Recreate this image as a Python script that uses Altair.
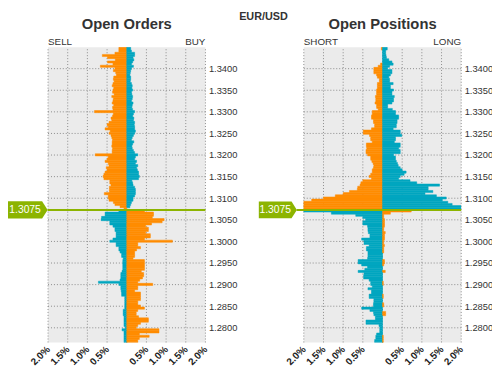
import altair as alt
import pandas as pd

# ---------------- data ----------------
ORANGE = "#ff8c00"
TEAL = "#00a6c0"
GREEN = "#8cb400"
BG = "#ebebeb"
GRID = "#8a8a8a"
TXT = "#333333"
FONT = "Liberation Sans"

PAIR = "EUR/USD"
CURRENT_PRICE = 1.3073
PRICE_LABEL = "1.3075"
STEP = 0.0005          # price bucket size
N_ABOVE = 76           # buckets above the current price
Y_DOMAIN = [1.27661, 1.34494]
PRICE_TICKS = [1.2800, 1.2850, 1.2900, 1.2950, 1.3000, 1.3050, 1.3100,
               1.3150, 1.3200, 1.3250, 1.3300, 1.3350, 1.3400]
X_GRID = [-2, -1.5, -1, -0.5, 0, 0.5, 1, 1.5, 2]
X_LABELS = [-2, -1.5, -1, -0.5, 0.5, 1, 1.5, 2]

# Open Orders (% of orders per bucket), top bucket first
orders_sell = [
    .2, .2, .2, .3, .62, .49, .29, .49, .35, .67,
    .3, .34, .28, .26, .33, .34, .32, .35, .37, .33,
    .35, .36, .32, .38, .34, .35, .37, .33, .36, .35,
    .82, .34, .36, .4, .38, .45, .5, .47, .55, .42,
    .45, .4, .38, .36, .37, .37, .38, .36, .37, .37,
    .8, .47, .5, .55, .47, .45, .52, .5, .55, .58,
    .6, .58, .43, .43, .4, .44, .44, .44, .57, .47,
    .47, .45, .34, .3, .17, .07,
    .2, .55, .55, .64, .65, .43, .43, .35, .3, .3,
    .27, .27, .27, .35, .43, .27, .27, .2, .2, .17,
    .13, .13, .09, .1, .1, .1, .1, .1, .12, .15,
    .15, .15, .17, .72, .2, .15, .15, .14, .13, .13,
    .05, .05, .05, .05, .05, .05, .09, .09, .09, .07,
    .07, .07, .07, .07, .04, .12, .07, .07, .07, .07, .07, .07]
orders_buy = [
    .1, .1, .12, .2, .2, .16, .18, .15, .12, .17,
    .12, .1, .09, .08, .1, .1, .09, .12, .14, .13,
    .15, .12, .13, .15, .14, .12, .16, .14, .13, .15,
    .2, .17, .15, .18, .17, .2, .19, .2, .2, .22,
    .2, .17, .14, .12, .18, .15, .13, .14, .17, .2,
    .28, .22, .2, .25, .22, .28, .25, .27, .3, .3,
    .32, .3, .13, .15, .16, .2, .22, .22, .22, .2,
    .16, .16, .12, .1, .08, 0,
    .45, .68, .68, .65, .95, .9, .63, .48, .55, .55,
    .48, .6, .6, .45, 1.16, .28, .28, .35, .25, .2,
    .2, .2, .16, .45, .45, .45, .45, .45, .37, .43,
    .43, .4, .33, .28, .66, .28, .28, .2, .35, .35,
    .35, .35, .28, .28, .35, .45, .28, .24, .24, .3,
    .55, .55, .35, .28, .24, .82, .82, .32, .57, .32, .28, .28]

# Open Positions (% of positions per bucket), top bucket first
positions_short = [
    .03, .03, 0, 0, 0, 0, 0, 0, .05, .11,
    .22, .22, .22, .15, .13, .08, .08, .13, .13, .13,
    .15, .15, .15, .18, .17, .17, .19, .15, .15, .11,
    .26, .26, .28, .28, .23, .23, .2, .2, .28, .49,
    .49, .33, .3, .3, .26, .41, .41, .4, .42, .42,
    .38, .3, .3, .27, .24, .22, .23, .26, .26, .3,
    .34, .28, .5, .55, .57, .63, .64, .84, 1.0, 1.2,
    1.5, 1.8, 2.0, 2.0, 2.0, 2.0,
    2.0, 1.3, .68, .5, .43, .5, .5, .38, .37, .37,
    .36, .32, .32, .53, .47, .47, .34, .41, .41, .37,
    .37, .37, .38, .62, .62, .53, .38, .45, .62, .47,
    .48, .48, .34, .3, .3, .26, .37, .28, .28, .34,
    .34, .22, .22, .23, .23, .53, .32, .23, .22, .18,
    .18, .42, .42, .09, .07, .07, .07, .15, .17, .17, .2, .2]
positions_long = [
    .12, .12, .08, .08, .09, .1, .16, .24, .27, .18,
    .13, .24, .24, .2, .16, .18, .18, .27, .2, .2,
    .28, .24, .24, .3, .28, .28, .24, .13, .13, .25,
    .33, .33, .41, .41, .37, .37, .35, .35, .27, .45,
    .45, .49, .33, .33, .3, .45, .45, .41, .45, .45,
    .28, .33, .33, .35, .38, .4, .45, .5, .6, .55,
    .45, .41, .7, .87, 1.45, 1.16, 1.16, 1.28, 1.08, 1.37,
    1.62, 1.52, 1.66, 1.77, 2.0, 2.0,
    .73, .2, .03, .03, .05, .05, .05, .05, .03, .03,
    .07, .05, .05, .05, .03, .03, .05, .03, .03, .03,
    0, 0, 0, .05, .05, .03, 0, 0, .07, 0,
    0, 0, 0, .02, .02, 0, 0, 0, 0, .02,
    .02, 0, 0, .03, .03, 0, 0, .08, .08, 0,
    0, 0, 0, 0, 0, 0, 0, 0, .02, .02, .02, .02]


def bars_frame(left_vals, right_vals):
    rows = []
    for i, (l, r) in enumerate(zip(left_vals, right_vals)):
        hi = CURRENT_PRICE + (N_ABOVE - i) * STEP
        lo = hi - STEP
        above = i < N_ABOVE
        if l > 0:
            rows.append(dict(lo=lo, hi=hi, x0=0.0, x1=-l, col="o" if above else "t"))
        if r > 0:
            rows.append(dict(lo=lo, hi=hi, x0=0.0, x1=r, col="t" if above else "o"))
    return pd.DataFrame(rows)


ARROW = "M-1,-0.44L0.72,-0.44L1,0L0.72,0.44L-1,0.44Z"
cscale = alt.Scale(domain=["o", "t"], range=[ORANGE, TEAL])


def panel(df, rng, title, left_word, right_word, y_offset,
          arrow_x, arrow_size, text_x, line_x0, extra=None):
    xs = alt.Scale(domain=[-2, 2], range=rng)
    ys = alt.Scale(domain=Y_DOMAIN, nice=False, zero=False)

    xaxis = alt.Axis(orient="bottom", values=X_LABELS, title=None, domain=False,
                     ticks=False, tickSize=0, grid=False, labelPadding=5, labelAngle=315,
                     labelAlign="right", labelBaseline="middle", labelFontWeight="bold",
                     labelFontSize=10, labelColor="#222222", labelFont=FONT,
                     labelOverlap=False, labelFlush=False, labelBound=False,
                     labelExpr="format(abs(datum.value), '.1f') + '%'")
    yaxis = alt.Axis(orient="right", offset=y_offset, values=PRICE_TICKS, format=".4f",
                     title=None, domain=False, ticks=False, tickSize=0, grid=False,
                     labelPadding=3, labelFontSize=9.5, labelColor=TXT, labelFont=FONT,
                     labelOverlap=False, labelFlush=False)

    def X(f):
        return alt.X(f, scale=xs, axis=xaxis)

    def Y(f):
        return alt.Y(f, scale=ys, axis=yaxis)

    bg = alt.Chart(pd.DataFrame({"x0": [-2], "x1": [2], "lo": [Y_DOMAIN[0]], "hi": [Y_DOMAIN[1]]})
                   ).mark_rect(color=BG).encode(x=X("x0:Q"), x2="x1", y=Y("lo:Q"), y2="hi")

    vgrid = alt.Chart(pd.DataFrame({"x0": X_GRID, "lo": Y_DOMAIN[0], "hi": Y_DOMAIN[1]})
                      ).mark_rule(color=GRID, strokeDash=[1, 2], strokeWidth=1).encode(
        x=X("x0:Q"), y=Y("lo:Q"), y2="hi")

    hgrid = alt.Chart(pd.DataFrame({"lo": PRICE_TICKS, "x0": -2, "x1": 2})
                      ).mark_rule(color=GRID, strokeDash=[1, 2], strokeWidth=1).encode(
        y=Y("lo:Q"), x=X("x0:Q"), x2="x1")

    bars = alt.Chart(df).mark_rect(clip=True, strokeWidth=0.5).encode(
        x=X("x0:Q"), x2="x1", y=Y("lo:Q"), y2="hi",
        color=alt.Color("col:N", scale=cscale, legend=None),
        stroke=alt.Stroke("col:N", scale=cscale, legend=None))

    cur = pd.DataFrame({"lo": [CURRENT_PRICE], "lab": [PRICE_LABEL]})
    line = alt.Chart(cur).mark_rule(color=GREEN, strokeWidth=2).encode(
        y=Y("lo:Q"), x=alt.value(line_x0), x2=alt.value(rng[1]))
    tag = alt.Chart(cur).mark_point(shape=ARROW, filled=True, size=arrow_size,
                                    color=GREEN, opacity=1, strokeWidth=0).encode(
        y=Y("lo:Q"), x=alt.value(arrow_x))
    tag_text = alt.Chart(cur).mark_text(color="white", fontSize=10.5, font=FONT,
                                        align="center", baseline="middle").encode(
        y=Y("lo:Q"), x=alt.value(text_x), text="lab:N")

    head = alt.Chart(pd.DataFrame({"t": [title], "x0": [0]})).mark_text(
        fontSize=15, fontWeight="bold", color=TXT, font=FONT, baseline="alphabetic").encode(
        x=X("x0:Q"), y=alt.value(-19), text="t:N")
    lw = alt.Chart(pd.DataFrame({"t": [left_word], "x0": [-2]})).mark_text(
        fontSize=10, color=TXT, font=FONT, align="left", baseline="alphabetic").encode(
        x=X("x0:Q"), y=alt.value(-2.5), text="t:N")
    rw = alt.Chart(pd.DataFrame({"t": [right_word], "x0": [2]})).mark_text(
        fontSize=10, color=TXT, font=FONT, align="right", baseline="alphabetic").encode(
        x=X("x0:Q"), y=alt.value(-2.5), text="t:N")

    layers = [bg, vgrid, hgrid, bars, line, tag, tag_text, head, lw, rw]
    if extra is not None:
        layers.append(extra)
    return alt.layer(*layers)


pair_title = alt.Chart(pd.DataFrame({"t": [PAIR]})).mark_text(
    fontSize=11, fontWeight="bold", color=TXT, font=FONT, baseline="alphabetic").encode(
    x=alt.value(219), y=alt.value(-28), text="t:N")

left = panel(bars_frame(orders_sell, orders_buy), [0, 160], "Open Orders", "SELL", "BUY",
             -260, -20.55, 1624, -23.35, -0.4, extra=pair_title)
right = panel(bars_frame(positions_short, positions_long), [260, 420], "Open Positions",
              "SHORT", "LONG", 0, 233.6, 1498, 230.9, 252.7)

chart = alt.layer(left, right).resolve_scale(
    x="independent", y="independent"
).properties(
    width=420, height=300,
    padding={"left": 40.7, "top": 37, "right": 31.3, "bottom": 23},
    autosize=alt.AutoSizeParams(type="none"),
    background="white",
).configure_view(stroke=None)

chart.save("out.html", embed_options={"renderer": "svg", "actions": False})
